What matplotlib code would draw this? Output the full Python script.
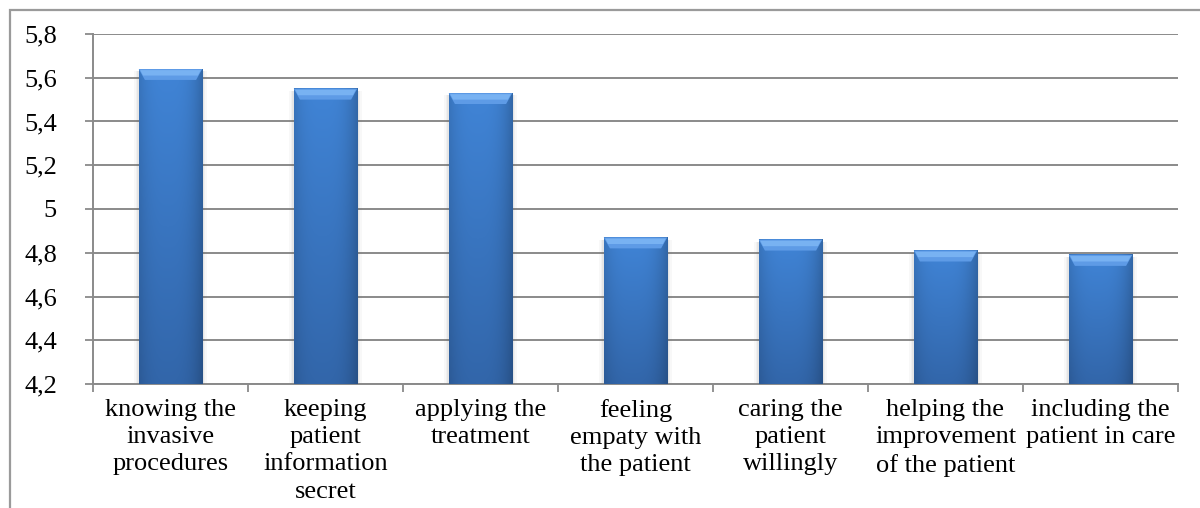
import numpy as np
import matplotlib.pyplot as plt
from matplotlib.patches import Polygon, Rectangle

# data
labels = ["knowing the\ninvasive\nprocedures",
          "keeping\npatient\ninformation\nsecret",
          "applying the\ntreatment",
          "feeling\nempaty with\nthe patient",
          "caring the\npatient\nwillingly",
          "helping the\nimprovement\nof the patient",
          "including the\npatient in care"]
values = [5.64, 5.55, 5.53, 4.87, 4.86, 4.81, 4.79]
yticks = [4.2, 4.4, 4.6, 4.8, 5.0, 5.2, 5.4, 5.6, 5.8]
ytick_labels = ["4,2", "4,4", "4,6", "4,8", "5", "5,2", "5,4", "5,6", "5,8"]

plt.rcParams['font.family'] = 'serif'
plt.rcParams['font.serif'] = ['Liberation Serif', 'Times New Roman', 'DejaVu Serif']

fig = plt.figure(figsize=(12, 5.08), dpi=100)
ax = fig.add_axes([93/1200, 1-384/508, (1178-93)/1200, (384-34)/508])

ymin = yticks[0]
bw = 0.41

# cylinder-like shading for the bars
xs = np.linspace(-1, 1, 80)
hprof = 1.0 - 0.16*np.abs(xs + 0.1)**3
ys = np.linspace(0, 1, 100)
top_c = np.array([64, 132, 214])/255
bot_c = np.array([50, 102, 170])/255
col = bot_c[None, :] + (top_c - bot_c)[None, :]*ys[:, None]
img = np.clip(col[:, None, :]*hprof[None, :, None], 0, 1)

bevel = 0.05
for i, v in enumerate(values):
    x0, x1 = i - bw/2, i + bw/2
    # soft shadow on the sides
    for k, a in enumerate([0.04, 0.05, 0.07]):
        d = 0.01*(3-k)
        ax.add_patch(Rectangle((x0-d, ymin), bw+2*d, v-ymin-0.01,
                               facecolor='#606060', alpha=a, lw=0, zorder=2))
    ax.imshow(img, extent=(x0, x1, ymin, v), origin='lower', aspect='auto',
              interpolation='bilinear', zorder=3)
    ins = 0.04
    ax.add_patch(Polygon([(x0, v), (x1, v), (x1-ins, v-bevel), (x0+ins, v-bevel)],
                         closed=True, facecolor='#5e9be6', edgecolor='none', zorder=4))
    ax.add_patch(Polygon([(x0+0.01, v-0.005), (x1-0.01, v-0.005), (x1-ins*0.7, v-bevel*0.6),
                          (x0+ins*0.7, v-bevel*0.6)],
                         closed=True, facecolor='#78b2f2', edgecolor='none', zorder=4))

ax.set_xlim(-0.5, len(values)-0.5)
ax.set_ylim(yticks[0], yticks[-1])

ax.set_yticks(yticks)
ax.set_yticklabels(ytick_labels)
ax.yaxis.grid(True, color='#8a8a8a', lw=1.4)
ax.set_axisbelow(True)

ax.set_xticks(np.arange(-0.5, len(values)), labels=[])
ax.set_xticks(np.arange(len(values)), labels=labels, minor=True)
ax.tick_params(axis='x', which='major', length=6, width=1.3, color='#8a8a8a', direction='out')
ax.tick_params(axis='x', which='minor', length=0, pad=11, labelsize=19)
ax.tick_params(axis='y', length=6, width=1.3, color='#8a8a8a', pad=20, labelsize=19)
for lbl in ax.get_xticklabels(minor=True):
    lbl.set_linespacing(1.3)

for s in ['top', 'right']:
    ax.spines[s].set_visible(False)
for s in ['left', 'bottom']:
    ax.spines[s].set_color('#8a8a8a')
    ax.spines[s].set_linewidth(1.4)

# outer chart border (cropped at right and bottom)
fig.patches.append(Rectangle((10/1200, -0.2), 1.2, 1.2 - 10/508, transform=fig.transFigure,
                             fill=False, edgecolor='#9a9a9a', lw=1.6))

fig.savefig('out.png', dpi=100)
